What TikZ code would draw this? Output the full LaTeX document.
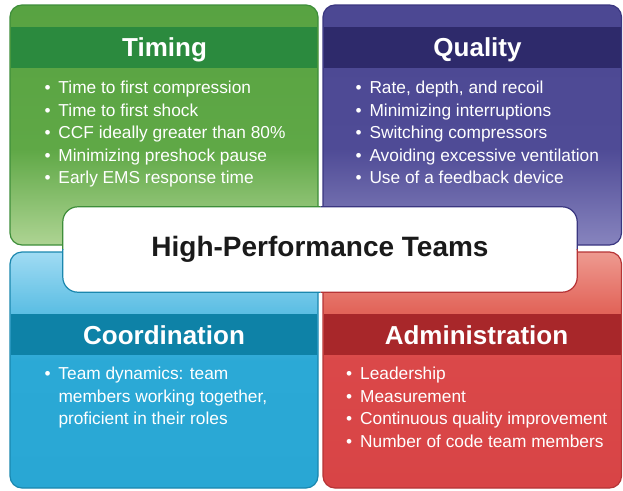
\documentclass[tikz,border=0pt]{standalone}
\usepackage{fontspec}
\setmainfont{Liberation Sans}
\definecolor{gT}{HTML}{58A342}
\definecolor{gM}{HTML}{5FA846}
\definecolor{gB}{HTML}{AED493}
\definecolor{gHead}{HTML}{2B8A3E}
\definecolor{gLine}{HTML}{3E8E3A}
\definecolor{pT}{HTML}{4C4893}
\definecolor{pM}{HTML}{4F4B96}
\definecolor{pB}{HTML}{8784BE}
\definecolor{pHead}{HTML}{2E2A6B}
\definecolor{pLine}{HTML}{3A3680}
\definecolor{bT}{HTML}{A0DBF3}
\definecolor{bM}{HTML}{5EBFE4}
\definecolor{bL}{HTML}{2BA9D6}
\definecolor{bB}{HTML}{29A7D4}
\definecolor{bHead}{HTML}{0E82A7}
\definecolor{bLine}{HTML}{1A87AE}
\definecolor{rT}{HTML}{EE9A90}
\definecolor{rM}{HTML}{E2655A}
\definecolor{rL}{HTML}{DA4849}
\definecolor{rB}{HTML}{D84446}
\definecolor{rHead}{HTML}{A8272A}
\definecolor{rLine}{HTML}{B63436}
\definecolor{titleC}{HTML}{1A1A1A}
\pgfdeclareverticalshading{gshade}{100bp}{color(0bp)=(gB); color(25bp)=(gB); color(45bp)=(gM); color(75bp)=(gT); color(100bp)=(gT)}
\pgfdeclareverticalshading{pshade}{100bp}{color(0bp)=(pB); color(25bp)=(pB); color(45bp)=(pM); color(75bp)=(pT); color(100bp)=(pT)}
\pgfdeclareverticalshading{bshade}{100bp}{color(0bp)=(bB); color(25bp)=(bB); color(52bp)=(bL); color(62.7bp)=(bM); color(75bp)=(bT); color(100bp)=(bT)}
\pgfdeclareverticalshading{rshade}{100bp}{color(0bp)=(rB); color(25bp)=(rB); color(52bp)=(rL); color(62.7bp)=(rM); color(75bp)=(rT); color(100bp)=(rT)}
\begin{document}
\begin{tikzpicture}[x=1pt,y=-1pt,
  panelfill/.style={rounded corners=12pt},
  panelline/.style={rounded corners=12pt, line width=1.2pt},
  head/.style={text=white, font=\fontsize{26}{30}\selectfont\bfseries, anchor=base, inner sep=0pt},
  bul/.style={text=white, font=\fontsize{17.3}{22}\selectfont, anchor=base west, inner sep=0pt},
  boxline/.style={line width=1.2pt, rounded corners=15pt}]
\useasboundingbox (0,0) rectangle (623,490);
% Timing panel
\shade[shading=gshade, panelfill] (10,5) rectangle (318,245);
\fill[gHead] (10.6,27) rectangle (317.4,68);
\draw[gLine, panelline] (10,5) rectangle (318,245);
% Quality panel
\shade[shading=pshade, panelfill] (323,5) rectangle (621.5,245);
\fill[pHead] (323.6,27) rectangle (620.9,68);
\draw[pLine, panelline] (323,5) rectangle (621.5,245);
% Coordination panel
\shade[shading=bshade, panelfill] (10,252) rectangle (318,488);
\fill[bHead] (10.6,314) rectangle (317.4,355);
\draw[bLine, panelline] (10,252) rectangle (318,488);
% Administration panel
\shade[shading=rshade, panelfill] (323,252) rectangle (621.5,488);
\fill[rHead] (323.6,314) rectangle (620.9,355);
\draw[rLine, panelline] (323,252) rectangle (621.5,488);
% Center box
\node (hpt) [fill=white, rounded corners=15pt, minimum width=514pt, minimum height=85pt, inner sep=0pt, text=titleC, font=\fontsize{28}{32}\selectfont\bfseries] at (320,249.5) {\raisebox{0pt}{High-Performance Teams}};
\begin{scope}
  \clip (0,0) rectangle (320.5,249.5);
  \draw[gLine, boxline] (hpt.north west) rectangle (hpt.south east);
\end{scope}
\begin{scope}
  \clip (320.5,0) rectangle (623,249.5);
  \draw[pLine, boxline] (hpt.north west) rectangle (hpt.south east);
\end{scope}
\begin{scope}
  \clip (0,249.5) rectangle (320.5,490);
  \draw[bLine, boxline] (hpt.north west) rectangle (hpt.south east);
\end{scope}
\begin{scope}
  \clip (320.5,249.5) rectangle (623,490);
  \draw[rLine, boxline] (hpt.north west) rectangle (hpt.south east);
\end{scope}
% Headers
\node[head] (timing) at (164.5,56) {Timing};
\node[head] (quality) at (477.5,56) {Quality};
\node[head] (coord) at (164,344) {Coordination};
\node[head] (admin) at (476.5,344) {Administration};
% Bullets
\foreach \txt [count=\i] in {Time to first compression, Time to first shock, CCF ideally greater than 80\%, Minimizing preshock pause, Early EMS response time}
  \node[bul] (tim\i) at (44.3,{93.5+22.6*(\i-1)}) {\makebox[14pt][l]{\textbullet}\txt};
\foreach \txt [count=\i] in {{Rate, depth, and recoil}, Minimizing interruptions, Switching compressors, Avoiding excessive ventilation, Use of a feedback device}
  \node[bul] (qua\i) at (355.3,{93.5+22.6*(\i-1)}) {\makebox[14pt][l]{\textbullet}\txt};
\node[bul] (coo1) at (44.3,379.5) {\makebox[14pt][l]{\textbullet}Team dynamics: team};
\node[bul] (coo2) at (58.3,402) {members working together,};
\node[bul] (coo3) at (58.3,424.5) {proficient in their roles};
\foreach \txt [count=\i] in {Leadership, Measurement, Continuous quality improvement, Number of code team members}
  \node[bul] (adm\i) at (346,{379.5+22.5*(\i-1)}) {\makebox[14pt][l]{\textbullet}\txt};
\end{tikzpicture}
\end{document}
